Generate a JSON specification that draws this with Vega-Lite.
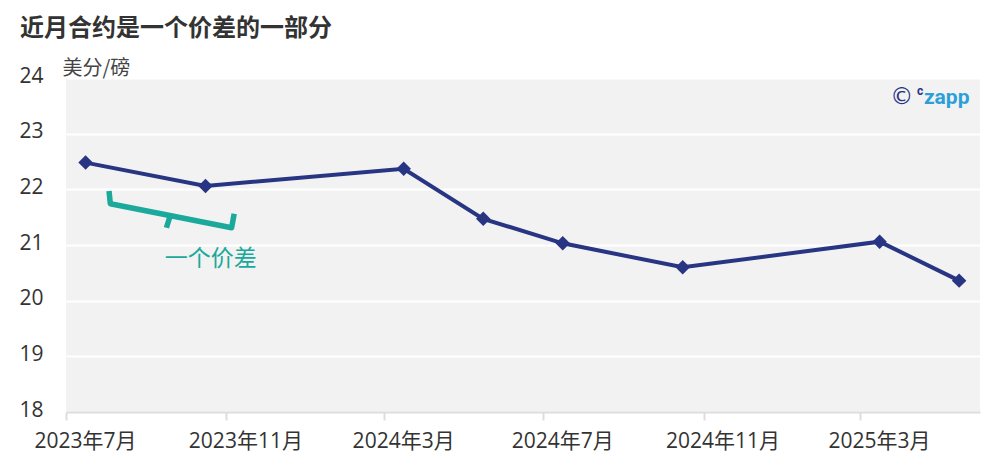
{
  "$schema": "https://vega.github.io/schema/vega-lite/v6.json",
  "autosize": {"type": "none"},
  "width": 914,
  "height": 334,
  "padding": {"left": 66, "top": 78, "right": 20, "bottom": 51},
  "background": "white",
  "title": {
    "text": "近月合约是一个价差的一部分",
    "anchor": "start",
    "frame": "group",
    "dx": -46,
    "offset": 17,
    "font": "Noto Sans CJK SC",
    "fontSize": 24,
    "fontWeight": "bold",
    "color": "#333333"
  },
  "config": {
    "view": {"fill": "#f2f2f2", "stroke": null},
    "font": "Open Sans, Noto Sans CJK SC"
  },
  "datasets": {
    "prices": [
      {"date": "2023-07-16", "price": 22.48},
      {"date": "2023-10-16", "price": 22.06},
      {"date": "2024-03-16", "price": 22.37},
      {"date": "2024-05-16", "price": 21.47},
      {"date": "2024-07-16", "price": 21.03},
      {"date": "2024-10-16", "price": 20.6},
      {"date": "2025-03-16", "price": 21.06},
      {"date": "2025-05-16", "price": 20.36}
    ],
    "bracket": [
      {"part": "a", "ord": 1, "date": "2023-08-03", "price": 21.97},
      {"part": "a", "ord": 2, "date": "2023-08-04", "price": 21.74},
      {"part": "a", "ord": 3, "date": "2023-11-05", "price": 21.31},
      {"part": "a", "ord": 4, "date": "2023-11-07", "price": 21.56},
      {"part": "b", "ord": 1, "date": "2023-09-19", "price": 21.53},
      {"part": "b", "ord": 2, "date": "2023-09-16", "price": 21.31}
    ]
  },
  "layer": [
    {
      "data": {"name": "prices"},
      "mark": {"type": "line", "color": "#283583", "strokeWidth": 4,
        "point": {"shape": "diamond", "size": 210, "filled": true, "color": "#283583", "opacity": 1}},
      "encoding": {
        "x": {
          "field": "date", "type": "temporal",
          "scale": {"domain": [{"year": 2023, "month": 7, "date": 1}, {"year": 2025, "month": 6, "date": 1}]},
          "axis": {
            "title": null,
            "values": [
              {"year": 2023, "month": 7, "date": 1},
              {"year": 2023, "month": 11, "date": 1},
              {"year": 2024, "month": 3, "date": 1},
              {"year": 2024, "month": 7, "date": 1},
              {"year": 2024, "month": 11, "date": 1},
              {"year": 2025, "month": 3, "date": 1}
            ],
            "format": "%Y年%-m月",
            "grid": false,
            "domainColor": "#dddddd",
            "domainWidth": 2,
            "tickColor": "#dddddd",
            "tickWidth": 2,
            "tickSize": 8,
            "labelFontSize": 21,
            "labelColor": "#333333",
            "labelOffset": 19,
            "labelPadding": 10,
            "labelFlush": false,
            "labelOverlap": false
          }
        },
        "y": {
          "field": "price", "type": "quantitative",
          "scale": {"domain": [18, 24], "nice": false, "zero": false},
          "axis": {
            "title": "美分/磅",
            "titleAngle": 0,
            "titleAlign": "left",
            "titleBaseline": "alphabetic",
            "titleX": -4,
            "titleY": -4,
            "titleFont": "Noto Sans CJK SC",
            "titleFontSize": 20,
            "titleFontWeight": "normal",
            "titleColor": "#444444",
            "values": [18, 19, 20, 21, 22, 23, 24],
            "format": "d",
            "domain": false,
            "ticks": false,
            "grid": true,
            "gridColor": "#ffffff",
            "gridWidth": 2,
            "labelFontSize": 21,
            "labelColor": "#333333",
            "labelPadding": 23,
            "labelOffset": -2,
            "labelFlush": false
          }
        }
      }
    },
    {
      "data": {"name": "bracket"},
      "mark": {"type": "line", "color": "#1aa99b", "strokeWidth": 5.5, "strokeJoin": "round", "strokeCap": "butt"},
      "encoding": {
        "x": {"field": "date", "type": "temporal"},
        "y": {"field": "price", "type": "quantitative"},
        "detail": {"field": "part"},
        "order": {"field": "ord"}
      }
    },
    {
      "data": {"values": [{"label": "一个价差"}]},
      "mark": {"type": "text", "font": "Noto Sans CJK SC", "fontSize": 23, "color": "#1aa99b", "align": "center", "baseline": "middle"},
      "encoding": {
        "x": {"datum": {"year": 2023, "month": 10, "date": 20}, "type": "temporal"},
        "y": {"datum": 20.75, "type": "quantitative"},
        "text": {"field": "label"}
      }
    },
    {
      "data": {"values": [{"label": "©"}]},
      "mark": {"type": "text", "font": "DejaVu Sans", "fontSize": 23, "color": "#283583", "align": "center", "baseline": "middle"},
      "encoding": {
        "x": {"datum": {"year": 2025, "month": 4, "date": 2}, "type": "temporal"},
        "y": {"datum": 23.66, "type": "quantitative"},
        "text": {"field": "label"}
      }
    },
    {
      "data": {"values": [{"label": "c"}]},
      "mark": {"type": "text", "font": "Roboto", "fontSize": 12, "fontWeight": "bold", "color": "#283583", "align": "center", "baseline": "middle"},
      "encoding": {
        "x": {"datum": {"year": 2025, "month": 4, "date": 16}, "type": "temporal"},
        "y": {"datum": 23.77, "type": "quantitative"},
        "text": {"field": "label"}
      }
    },
    {
      "data": {"values": [{"label": "zapp"}]},
      "mark": {"type": "text", "font": "Roboto", "fontSize": 21, "fontWeight": "bold", "color": "#2b9fd9", "align": "left", "baseline": "middle"},
      "encoding": {
        "x": {"datum": {"year": 2025, "month": 4, "date": 19}, "type": "temporal"},
        "y": {"datum": 23.64, "type": "quantitative"},
        "text": {"field": "label"}
      }
    }
  ]
}
